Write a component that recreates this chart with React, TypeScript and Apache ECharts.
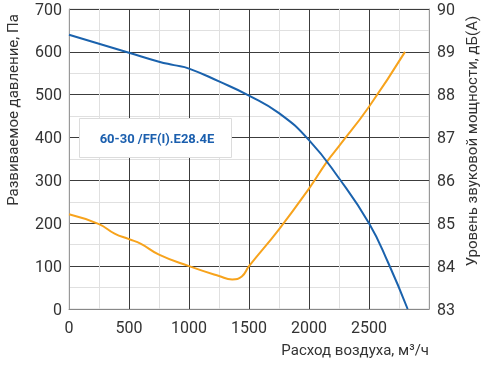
import React, { useEffect, useRef } from "react";
import * as echarts from "echarts";

const pressureX = [0, 250, 500, 750, 875, 1000, 1250, 1500, 1750, 2000, 2250, 2500, 2660, 2822];
const pressureY = [640, 619, 598, 577, 569, 561, 531, 498, 457, 394, 305, 200, 108, 0];

const noiseX = [0, 250, 380, 500, 600, 750, 1000, 1250, 1360, 1440, 1500, 1750, 2000, 2150, 2250, 2500, 2800];
const noiseY = [85.21, 84.98, 84.76, 84.63, 84.52, 84.27, 84.0, 83.77, 83.69, 83.76, 84.0, 84.86, 85.81, 86.44, 86.8, 87.72, 89.0];

const modelLabel = "60-30 /FF(I).E28.4E";
const xName = "Расход воздуха, м³/ч";
const leftName = "Развиваемое давление, Па";
const rightName = "Уровень звуковой мощности, дБ(А)";

const FONT = "Roboto, 'Noto Sans', sans-serif";

export default function App() {
  const ref = useRef<HTMLDivElement>(null);
  useEffect(() => {
    if (!ref.current) return;
    const chart = echarts.init(ref.current, null, { renderer: "svg" });
    const labelStyle = { color: "#333", fontSize: 16, fontFamily: FONT };
    chart.setOption({
      animation: false,
      grid: { left: 69, right: 60, top: 9, bottom: 56, show: true, borderColor: "#d8d8d8", borderWidth: 1 },
      xAxis: {
        type: "value",
        min: 0,
        max: 3000,
        interval: 500,
        axisLine: { show: true, lineStyle: { color: "#888", width: 1 } },
        axisTick: { show: false },
        axisLabel: { ...labelStyle, margin: 10, showMaxLabel: false, formatter: (v: number) => String(v) },
        splitLine: { show: true, lineStyle: { color: "#3c3c3c", width: 1 } },
        minorTick: { show: false, splitNumber: 2 },
        minorSplitLine: { show: true, lineStyle: { color: "#e0e0e0", width: 1 } },
      },
      yAxis: [
        {
          type: "value",
          min: 0,
          max: 700,
          interval: 100,
          axisLine: { show: true, lineStyle: { color: "#999", width: 1 } },
          axisTick: { show: false },
          axisLabel: { ...labelStyle, margin: 7, formatter: (v: number) => String(v) },
          splitLine: { show: true, lineStyle: { color: "#3c3c3c", width: 1 } },
          minorTick: { show: false, splitNumber: 2 },
          minorSplitLine: { show: true, lineStyle: { color: "#e0e0e0", width: 1 } },
        },
        {
          type: "value",
          min: 83,
          max: 90,
          interval: 1,
          position: "right",
          axisLine: { show: true, lineStyle: { color: "#999", width: 1 } },
          axisTick: { show: false },
          axisLabel: { ...labelStyle, margin: 8 },
          splitLine: { show: false },
        },
      ],
      series: [
        {
          type: "line",
          yAxisIndex: 1,
          data: noiseX.map((x, i) => [x, noiseY[i]]),
          smooth: 0.5,
          showSymbol: false,
          lineStyle: { color: "#f7a31c", width: 2 },
          z: 3,
        },
        {
          type: "line",
          yAxisIndex: 0,
          data: pressureX.map((x, i) => [x, pressureY[i]]),
          smooth: 0.5,
          showSymbol: false,
          lineStyle: { color: "#1a62ad", width: 2 },
          z: 4,
        },
      ],
      graphic: [
        {
          type: "rect",
          shape: { x: 79.5, y: 118.5, width: 152, height: 39 },
          style: { fill: "#fff", stroke: "#dcdcdc", lineWidth: 1 },
          z: 10,
        },
        {
          type: "text",
          x: 157,
          y: 138,
          style: {
            text: modelLabel,
            fill: "#1b5fae",
            fontSize: 13,
            fontWeight: "bold",
            fontFamily: FONT,
            textAlign: "center",
            textVerticalAlign: "middle",
          },
          z: 11,
        },
        {
          type: "text",
          x: 13,
          y: 110,
          rotation: Math.PI / 2,
          style: { text: leftName, fill: "#333", fontSize: 15, fontFamily: FONT, textAlign: "center", textVerticalAlign: "middle" },
        },
        {
          type: "text",
          x: 472,
          y: 141,
          rotation: Math.PI / 2,
          style: { text: rightName, fill: "#333", fontSize: 15, fontFamily: FONT, textAlign: "center", textVerticalAlign: "middle" },
        },
        {
          type: "text",
          x: 429,
          y: 350,
          style: { text: xName, fill: "#333", fontSize: 15, fontFamily: FONT, textAlign: "right", textVerticalAlign: "middle" },
        },
      ],
    });
    return () => chart.dispose();
  }, []);
  return <div ref={ref} style={{ position: "fixed", left: 0, top: 0, width: 489, height: 365 }} />;
}
